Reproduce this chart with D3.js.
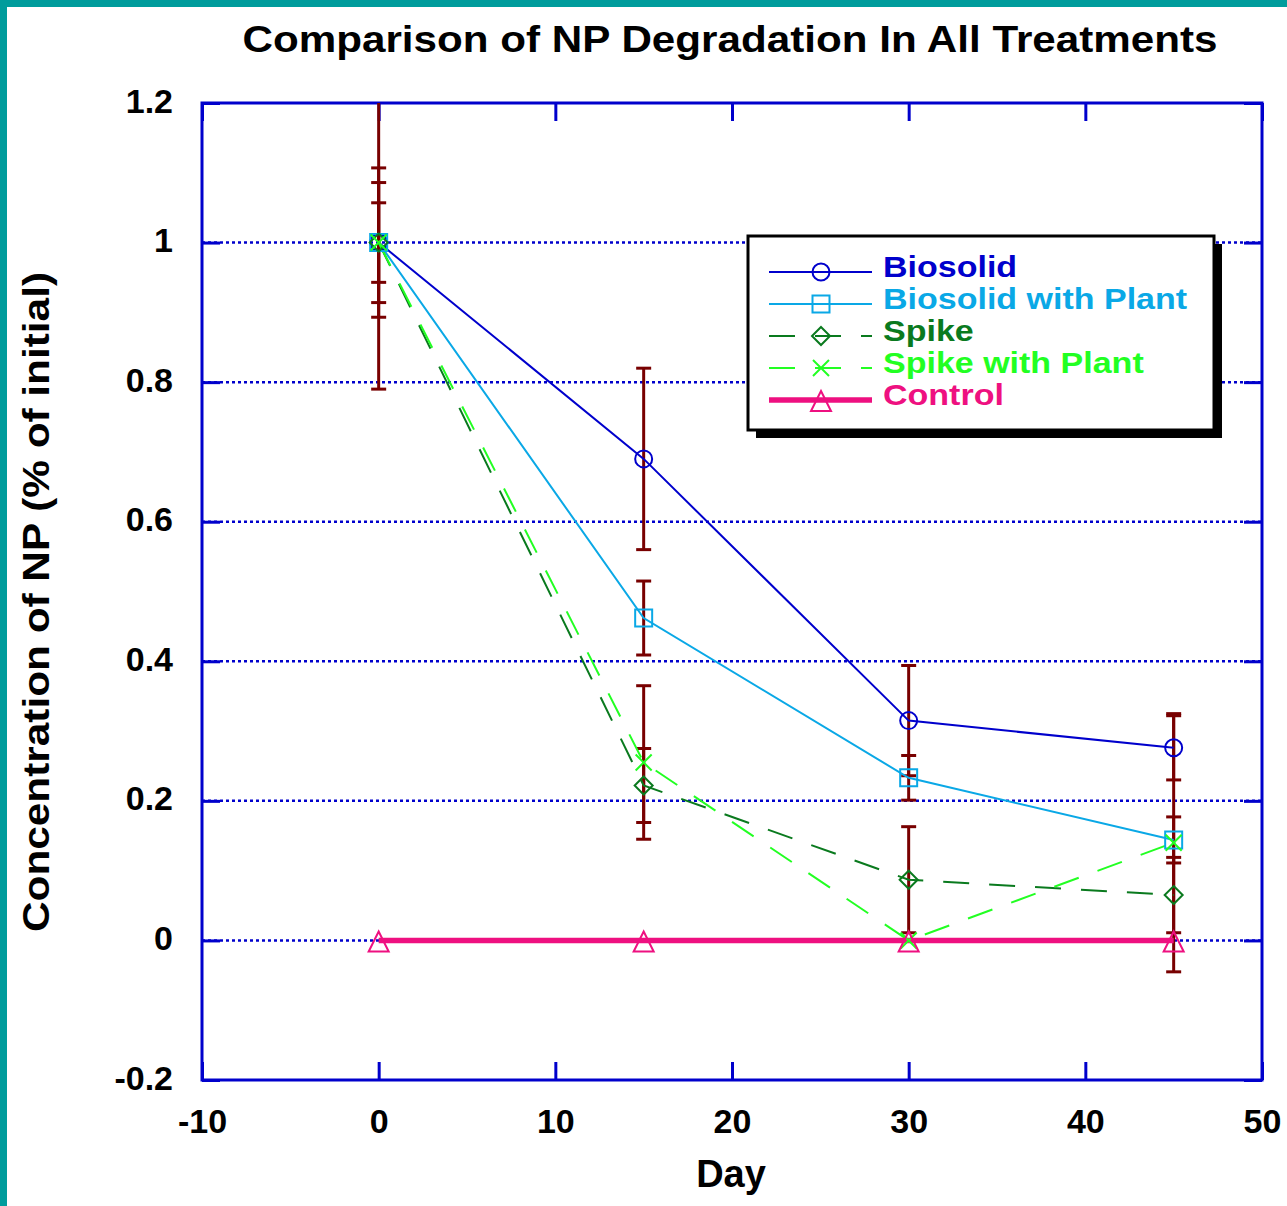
<!DOCTYPE html>
<html>
<head>
<meta charset="utf-8">
<script src="https://cdn.jsdelivr.net/npm/d3@7"></script>
<style>
  body { margin: 0; background: #fff; }
  svg { display: block; }
</style>
</head>
<body>
<svg id="chart" width="1287" height="1206"></svg>
<script>
// data
var days = [0, 15, 30, 45];
var biosolid = [1.0, 0.69, 0.315, 0.276];
var biosolidErr = [0.107, 0.13, 0.079, 0.046];
var biosolidPlant = [1.0, 0.462, 0.233, 0.144];
var biosolidPlantErr = [0.057, 0.053, 0.032, 0.033];
var spike = [1.0, 0.222, 0.087, 0.065];
var spikeErr = [0.086, 0.053, 0.076, 0.054];
var spikePlant = [1.0, 0.255, 0.0, 0.14];
var spikePlantErr = [0.21, 0.11, 0, 0.185];
var control = [0, 0, 0, 0];
var controlErr = [0, 0, 0, 0];

var seriesNames = ["Biosolid", "Biosolid with Plant", "Spike", "Spike with Plant", "Control"];
var xTicks = [-10, 0, 10, 20, 30, 40, 50];
var xTickLabels = ["-10", "0", "10", "20", "30", "40", "50"];
var yTicks = [-0.2, 0, 0.2, 0.4, 0.6, 0.8, 1, 1.2];
var yTickLabels = ["-0.2", "0", "0.2", "0.4", "0.6", "0.8", "1", "1.2"];
var gridValues = [0, 0.2, 0.4, 0.6, 0.8, 1];

var series = [
  { name: seriesNames[0], values: biosolid, err: biosolidErr, color: "#0000cc", width: 2, dash: null, marker: "circle" },
  { name: seriesNames[1], values: biosolidPlant, err: biosolidPlantErr, color: "#0aa8e6", width: 2, dash: null, marker: "square" },
  { name: seriesNames[2], values: spike, err: spikeErr, color: "#0a7a1e", width: 2, dash: "26,20", marker: "diamond" },
  { name: seriesNames[3], values: spikePlant, err: spikePlantErr, color: "#22ff22", width: 2, dash: "26,20", marker: "x" },
  { name: seriesNames[4], values: control, err: controlErr, color: "#ee1080", width: 5.5, dash: null, marker: "triangle" }
];

var font = "'Liberation Sans', Arial, Helvetica, sans-serif";
var margin = { top: 103, right: 25, bottom: 126, left: 202 },
  width = 1287 - margin.left - margin.right,
  height = 1206 - margin.top - margin.bottom;

var svg = d3.select("#chart");

// teal frame on top and left
svg.append("rect").attr("x", 0).attr("y", 0).attr("width", 1287).attr("height", 7).attr("fill", "#009c9c");
svg.append("rect").attr("x", 0).attr("y", 0).attr("width", 7).attr("height", 1206).attr("fill", "#009c9c");

var g = svg.append("g").attr("transform", "translate(" + margin.left + "," + margin.top + ")");

var xScale = d3.scaleLinear().domain([-10, 50]).range([0, width]);
var yScale = d3.scaleLinear().domain([-0.2, 1.2]).range([height, 0]);

g.append("clipPath").attr("id", "plotclip")
  .append("rect").attr("width", width).attr("height", height);

// dotted grid
g.append("g").selectAll("line").data(gridValues).join("line")
  .attr("x1", 0).attr("x2", width)
  .attr("y1", function (d) { return yScale(d); })
  .attr("y2", function (d) { return yScale(d); })
  .attr("stroke", "#0000cc").attr("stroke-width", 2.5)
  .attr("stroke-dasharray", "3,3");

// axes with inward ticks
function styleAxis(sel) {
  sel.select(".domain").remove();
  sel.selectAll(".tick line").attr("stroke", "#0000cc").attr("stroke-width", 3);
}
var xAxis = g.append("g").attr("transform", "translate(0," + height + ")")
  .call(d3.axisBottom(xScale).tickValues(xTicks).tickSize(-18)
    .tickFormat(function (d, i) { return xTickLabels[i]; }));
styleAxis(xAxis);
xAxis.selectAll("text").attr("y", 53).attr("dy", null)
  .attr("font-family", font).attr("font-weight", "bold").attr("font-size", 34).attr("fill", "#000");

var xAxisTop = g.append("g").call(d3.axisTop(xScale).tickValues(xTicks).tickSize(-18).tickFormat(""));
styleAxis(xAxisTop);

var yAxis = g.append("g")
  .call(d3.axisLeft(yScale).tickValues(yTicks).tickSize(-18).tickFormat(function (d, i) { return yTickLabels[i]; }));
styleAxis(yAxis);
yAxis.selectAll("text").attr("x", -29).attr("dy", null).attr("y", 9)
  .attr("font-family", font).attr("font-weight", "bold").attr("font-size", 34).attr("fill", "#000");

var yAxisRight = g.append("g").attr("transform", "translate(" + width + ",0)")
  .call(d3.axisRight(yScale).tickValues(yTicks).tickSize(-18).tickFormat(""));
styleAxis(yAxisRight);

// frame
g.append("rect").attr("width", width).attr("height", height)
  .attr("fill", "none").attr("stroke", "#0000cc").attr("stroke-width", 3);

// error bars
var errLayer = g.append("g").attr("clip-path", "url(#plotclip)");
series.forEach(function (s) {
  days.forEach(function (d, i) {
    if (!s.err[i]) return;
    var cx = xScale(d),
      y1 = yScale(s.values[i] + s.err[i]),
      y2 = yScale(s.values[i] - s.err[i]);
    errLayer.append("line").attr("x1", cx).attr("x2", cx).attr("y1", y1).attr("y2", y2)
      .attr("stroke", "#780000").attr("stroke-width", 3);
    [y1, y2].forEach(function (yy) {
      errLayer.append("line").attr("x1", cx - 7.5).attr("x2", cx + 7.5).attr("y1", yy).attr("y2", yy)
        .attr("stroke", "#780000").attr("stroke-width", 3);
    });
  });
});

function markerPath(type) {
  if (type === "circle") return d3.symbol(d3.symbolCircle, Math.PI * 8.5 * 8.5)();
  if (type === "square") return "M-8.5,-8.5H8.5V8.5H-8.5Z";
  if (type === "diamond") return "M0,-9L9,0L0,9L-9,0Z";
  if (type === "x") return "M-8,-8L8,8M-8,8L8,-8";
  return "M0,-9L10,11L-10,11Z";
}

var line = d3.line()
  .x(function (d, i) { return xScale(days[i]); })
  .y(function (d) { return yScale(d); });

// series lines
series.forEach(function (s) {
  g.append("path").datum(s.values)
    .attr("d", line)
    .attr("fill", "none")
    .attr("stroke", s.color)
    .attr("stroke-width", s.width)
    .attr("stroke-dasharray", s.dash);
});

// markers
series.forEach(function (s) {
  g.append("g").selectAll("path").data(s.values).join("path")
    .attr("transform", function (d, i) { return "translate(" + xScale(days[i]) + "," + yScale(d) + ")"; })
    .attr("d", markerPath(s.marker))
    .attr("fill", "none")
    .attr("stroke", s.color)
    .attr("stroke-width", 2);
});

// legend
var lx = 748, ly = 236, lw = 466, lh = 194;
svg.append("rect").attr("x", lx + 8).attr("y", ly + 8).attr("width", lw).attr("height", lh).attr("fill", "#000");
svg.append("rect").attr("x", lx).attr("y", ly).attr("width", lw).attr("height", lh)
  .attr("fill", "#fff").attr("stroke", "#000").attr("stroke-width", 3);
series.forEach(function (s, i) {
  var yy = 272 + i * 32;
  var row = svg.append("g");
  row.append("line").attr("x1", 769).attr("x2", 872).attr("y1", yy).attr("y2", yy)
    .attr("stroke", s.color).attr("stroke-width", s.width).attr("stroke-dasharray", s.dash);
  row.append("path").attr("transform", "translate(821," + yy + ")")
    .attr("d", markerPath(s.marker)).attr("fill", "none").attr("stroke", s.color).attr("stroke-width", 2);
  var t = row.append("text").attr("x", 883).attr("y", yy + 5)
    .attr("font-family", font).attr("font-weight", "bold").attr("font-size", 34)
    .attr("fill", s.color).text(s.name);
  // keep the width of the 34px text but use a shorter font so rows don't collide
  var w = t.node().getComputedTextLength();
  t.attr("font-size", 30).attr("textLength", w).attr("lengthAdjust", "spacingAndGlyphs");
});

// title and axis labels
svg.append("text").attr("x", 730).attr("y", 52).attr("text-anchor", "middle")
  .attr("font-family", font).attr("font-weight", "bold").attr("font-size", 37)
  .attr("textLength", 975).attr("lengthAdjust", "spacingAndGlyphs")
  .text("Comparison of NP Degradation In All Treatments");

svg.append("text").attr("x", 731).attr("y", 1187).attr("text-anchor", "middle")
  .attr("font-family", font).attr("font-weight", "bold").attr("font-size", 38)
  .text("Day");

svg.append("text").attr("transform", "translate(49,602) rotate(-90)").attr("text-anchor", "middle")
  .attr("font-family", font).attr("font-weight", "bold").attr("font-size", 36)
  .attr("textLength", 660).attr("lengthAdjust", "spacingAndGlyphs")
  .text("Concentration of NP (% of initial)");
</script>
</body>
</html>
